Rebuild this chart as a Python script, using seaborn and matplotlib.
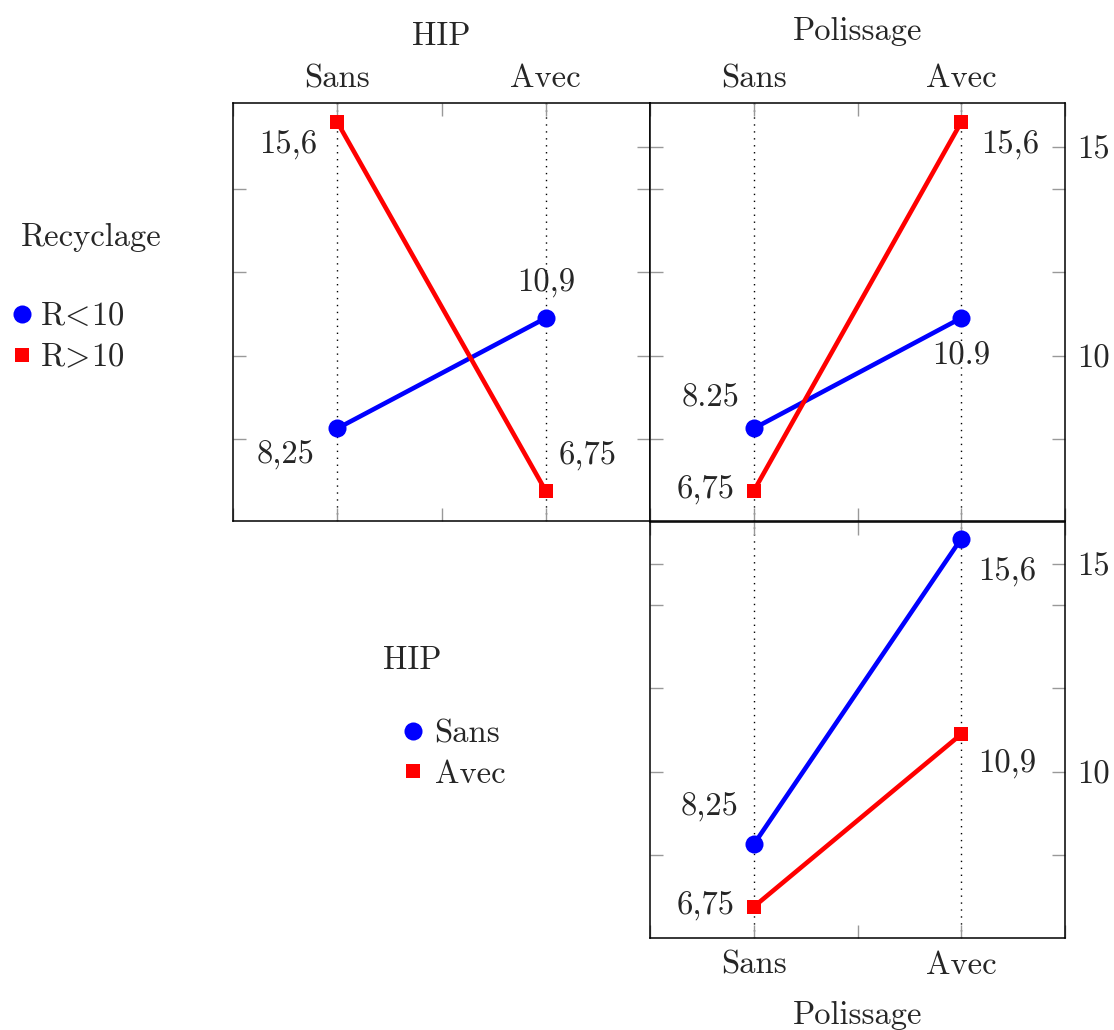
import pandas as pd
import seaborn as sns
import matplotlib.pyplot as plt
from matplotlib.lines import Line2D

# levels of every factor
niveaux = ['Sans', 'Avec']
x_pos = [0, 1]

# HIP (x) / Recyclage (series)
hip_r_inf = [8.25, 10.9]
hip_r_sup = [15.6, 6.75]
hip_r_inf_txt = ['8,25', '10,9']
hip_r_sup_txt = ['15,6', '6,75']

# Polissage (x) / Recyclage (series)
pol_r_inf = [8.25, 10.9]
pol_r_sup = [6.75, 15.6]
pol_r_inf_txt = ['8.25', '10.9']
pol_r_sup_txt = ['6,75', '15,6']

# Polissage (x) / HIP (series)
pol_hip_sans = [8.25, 15.6]
pol_hip_avec = [6.75, 10.9]
pol_hip_sans_txt = ['8,25', '15,6']
pol_hip_avec_txt = ['6,75', '10,9']

recyclage = [r'R$\!<\!$10', r'R$\!>\!$10']
hip_levels = ['Sans', 'Avec']

sns.set_theme(style='white')
plt.rcParams['font.family'] = ['cmr10', 'DejaVu Serif']
plt.rcParams['mathtext.fontset'] = 'cm'
plt.rcParams['axes.formatter.use_mathtext'] = True
plt.rcParams['axes.unicode_minus'] = False

FS = 23.5
BLUE = '#0000ff'
RED = '#ff0000'
TICK_GRAY = '#999999'

fig = plt.figure(figsize=(11.14, 10.30), dpi=100)
ax1 = fig.add_axes([0.2092, 0.4942, 0.3743, 0.4058])
ax2 = fig.add_axes([0.5835, 0.4942, 0.3725, 0.4058])
ax3 = fig.add_axes([0.5835, 0.0893, 0.3725, 0.4039])


def draw_series(ax, vals, txt, color, marker, ms, offsets):
    df = pd.DataFrame({'x': x_pos, 'y': vals})
    sns.lineplot(data=df, x='x', y='y', ax=ax, color=color, marker=marker,
                 markersize=ms, markeredgewidth=0, linewidth=3.3)
    for xi, v, t, off in zip(x_pos, vals, txt, offsets):
        ax.annotate(t, (xi, v), xytext=off, textcoords='offset points',
                    ha='center', va='center', fontsize=FS)


def style_axes(ax, top_labels, right_labels, ylim=(6.03, 16.06)):
    ax.set_xlim(-0.5, 1.5)
    ax.set_ylim(*ylim)
    ax.set_xlabel('')
    ax.set_ylabel('')
    for xv in x_pos:
        ax.axvline(xv, color='black', linestyle=(0, (1, 4)), linewidth=1, zorder=0)
    ax.set_xticks([-0.5, 0, 0.5, 1, 1.5])
    ax.set_xticklabels(['', niveaux[0], '', niveaux[1], ''], fontsize=FS)
    ax.set_yticks([8, 10, 12, 14, 15])
    ax.set_yticklabels(['', '10', '', '', '15'] if right_labels else [''] * 5, fontsize=FS)
    ax.tick_params(axis='both', direction='in', length=9.5, width=1, color=TICK_GRAY,
                   top=True, bottom=True, left=True, right=True,
                   labeltop=top_labels, labelbottom=not top_labels,
                   labelleft=False, labelright=right_labels)
    ax.tick_params(axis='x', pad=7 if top_labels else 9)
    ax.tick_params(axis='y', pad=9)
    for s in ax.spines.values():
        s.set_visible(True)
        s.set_color('black')
        s.set_linewidth(1.1)


draw_series(ax1, hip_r_inf, hip_r_inf_txt, BLUE, 'o', 13, [(-37, -19), (0, 25)])
draw_series(ax1, hip_r_sup, hip_r_sup_txt, RED, 's', 10, [(-35, -17), (30, 26)])
style_axes(ax1, True, False)
ax1.set_yticks([8, 10, 12, 14])
ax1.set_yticklabels([''] * 4)
# the 15 tick only shows on the right edge of the first panel
sec = ax1.secondary_yaxis('right')
sec.set_yticks([15])
sec.set_yticklabels([''])
sec.tick_params(direction='in', length=9.5, width=1, color=TICK_GRAY)
sec.spines['right'].set_visible(False)
ax1.xaxis.set_label_position('top')
ax1.set_xlabel('HIP', fontsize=FS, labelpad=14)

draw_series(ax2, pol_r_inf, pol_r_inf_txt, BLUE, 'o', 13, [(-31, 22), (0, -27)])
draw_series(ax2, pol_r_sup, pol_r_sup_txt, RED, 's', 10, [(-35, 1), (35, -17)])
style_axes(ax2, True, True)
ax2.xaxis.set_label_position('top')
ax2.set_xlabel('Polissage', fontsize=FS, labelpad=17.5)

draw_series(ax3, pol_hip_sans, pol_hip_sans_txt, BLUE, 'o', 13, [(-32, 27), (33, -24)])
draw_series(ax3, pol_hip_avec, pol_hip_avec_txt, RED, 's', 10, [(-35, 1), (33, -22)])
style_axes(ax3, False, True, ylim=(6.0, 16.0))
ax3.set_xlabel('Polissage', fontsize=FS, labelpad=15.5)

# legends
def handles():
    return [Line2D([], [], color=BLUE, marker='o', markersize=13, markeredgewidth=0, linestyle='None'),
            Line2D([], [], color=RED, marker='s', markersize=10, markeredgewidth=0, linestyle='None')]

fig.text(0.0817, 0.7699, 'Recyclage', ha='center', va='center', fontsize=FS)
fig.legend(handles(), recyclage, loc='center left', bbox_to_anchor=(0.005, 0.6724),
           frameon=False, fontsize=FS, handlelength=1, handletextpad=0.05,
           labelspacing=0.38, borderpad=0, borderaxespad=0)

fig.text(0.3698, 0.3592, 'HIP', ha='center', va='center', fontsize=FS)
fig.legend(handles(), hip_levels, loc='center left', bbox_to_anchor=(0.3564, 0.2679),
           frameon=False, fontsize=FS, handlelength=1, handletextpad=0.15,
           labelspacing=0.35, borderpad=0, borderaxespad=0)

fig.savefig('out.png', dpi=100)
